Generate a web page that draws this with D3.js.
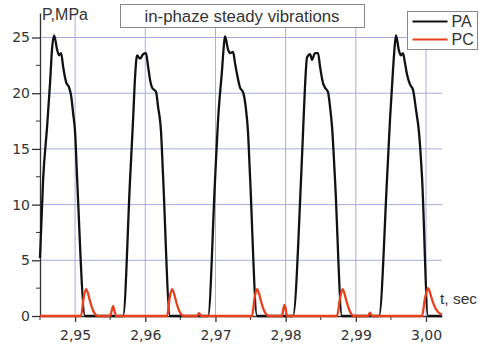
<!DOCTYPE html>
<html>
<head>
<meta charset="utf-8">
<script src="https://cdn.jsdelivr.net/npm/d3@7"></script>
<style>
  body { margin: 0; background: #fff; }
  svg { display: block; }
  text { font-family: "Liberation Sans", Arial, sans-serif; fill: #333; }
</style>
</head>
<body>
<div id="chart-container"></div>
<script>
// PA pressure trace: time (s) and pressure (MPa)
const paTime = [
  2.94500, 2.94544, 2.94601, 2.94644, 2.94672, 2.94701, 2.94744, 2.94772, 2.94801, 2.94829,
  2.94872, 2.94915, 2.94943, 2.94972, 2.95000, 2.95028, 2.95142,
  2.95684, 2.95783, 2.95826, 2.95855, 2.95883, 2.95926, 2.95969, 2.96011, 2.96040, 2.96068,
  2.96097, 2.96154, 2.96182, 2.96225, 2.96254, 2.96353,
  2.96895, 2.96994, 2.97037, 2.97094, 2.97123, 2.97137, 2.97180, 2.97208, 2.97251, 2.97279,
  2.97308, 2.97350, 2.97393, 2.97436, 2.97464, 2.97493, 2.97593,
  2.98105, 2.98219, 2.98248, 2.98276, 2.98305, 2.98348, 2.98376, 2.98419, 2.98462, 2.98490,
  2.98533, 2.98561, 2.98604, 2.98632, 2.98661, 2.98704, 2.98803,
  2.99331, 2.99444, 2.99487, 2.99530, 2.99558, 2.99573, 2.99615, 2.99644, 2.99672, 2.99701,
  2.99729, 2.99772, 2.99815, 2.99858, 2.99900, 2.99943, 3.00029, 3.00228
];
const paValue = [
  5.2, 12.2, 17.0, 21.0, 24.0, 25.2, 23.9, 23.4, 23.6, 22.4,
  21.0, 20.5, 19.8, 18.2, 16.5, 12.5, 0,
  0, 12.2, 17.6, 21.5, 23.4, 23.1, 23.5, 23.6, 22.4, 21.2,
  20.5, 20.1, 18.8, 16.5, 12.5, 0,
  0, 12.2, 17.6, 22.1, 24.5, 25.1, 23.9, 23.6, 23.7, 22.7,
  21.7, 20.5, 20.1, 18.5, 16.5, 12.5, 0,
  0, 12.2, 16.5, 20.6, 23.2, 23.5, 23.0, 23.6, 23.6, 22.4,
  20.9, 20.5, 20.1, 18.8, 17.0, 12.2, 0,
  0, 12.2, 17.6, 22.1, 24.5, 25.2, 23.8, 23.4, 23.6, 22.7,
  21.7, 20.8, 20.3, 18.5, 16.5, 12.5, 0, 0
];

// PC pressure trace
const pcTime = [
  2.94500,
  2.95085, 2.95121, 2.95157, 2.95185, 2.95214, 2.95256, 2.95328,
  2.95499, 2.95527, 2.95541, 2.95556, 2.95584,
  2.96311, 2.96346, 2.96382, 2.96410, 2.96439, 2.96481, 2.96553,
  2.96738, 2.96766, 2.96795,
  2.97521, 2.97557, 2.97593, 2.97621, 2.97650, 2.97692, 2.97764,
  2.97949, 2.97970, 2.97984, 2.97999, 2.98020,
  2.98732, 2.98775, 2.98811, 2.98839, 2.98868, 2.98910, 2.98974,
  2.99174, 2.99202, 2.99231,
  2.99943, 2.99986, 3.00029, 3.00057, 3.00085, 3.00142, 3.00228
];
const pcValue = [
  0,
  0, 1.6, 2.4, 2.0, 1.3, 0.5, 0,
  0, 0.6, 0.9, 0.6, 0,
  0, 1.6, 2.4, 2.0, 1.3, 0.5, 0,
  0, 0.25, 0,
  0, 1.6, 2.4, 2.0, 1.3, 0.5, 0,
  0, 0.7, 1.0, 0.7, 0,
  0, 1.6, 2.4, 2.0, 1.3, 0.5, 0,
  0, 0.3, 0,
  0, 1.6, 2.5, 2.1, 1.5, 0.6, 0.1
];

const xTicks = [2.95, 2.96, 2.97, 2.98, 2.99, 3.00];
const xMinorTicks = [2.945, 2.955, 2.965, 2.975, 2.985, 2.995];
const yTicks = [0, 5, 10, 15, 20, 25];
const yMinorTicks = [2.5, 7.5, 12.5, 17.5, 22.5];

const seriesNames = ["PA", "PC"];
const seriesColors = ["#111", "#e8401c"];

const W = 479, H = 345;
const margin = {top: 13, right: 37, bottom: 29, left: 40},
      width = W - margin.left - margin.right,
      height = H - margin.top - margin.bottom;

const svg = d3.select("#chart-container").append("svg")
    .attr("width", W)
    .attr("height", H);

const g = svg.append("g")
    .attr("transform", `translate(${margin.left}, ${margin.top})`);

const x = d3.scaleLinear()
    .domain([2.945, 3.00228])
    .range([0, width]);

const y = d3.scaleLinear()
    .domain([0, 27.2])
    .range([height, 0]);

// grid
const gridColor = "#a9acdc";
g.selectAll(".vgrid")
    .data(xTicks)
    .enter().append("line")
    .attr("x1", d => x(d)).attr("x2", d => x(d))
    .attr("y1", 0).attr("y2", height)
    .attr("stroke", gridColor).attr("stroke-width", 1);
g.selectAll(".hgrid")
    .data(yTicks.filter(d => d > 0))
    .enter().append("line")
    .attr("x1", 0).attr("x2", width)
    .attr("y1", d => y(d)).attr("y2", d => y(d))
    .attr("stroke", gridColor).attr("stroke-width", 1);

// x axis
const xAxis = g.append("g")
    .attr("transform", `translate(0, ${height})`)
    .call(d3.axisBottom(x).tickValues(xTicks).tickSize(6).tickSizeOuter(0)
        .tickFormat(d => d3.format(".2f")(d).replace(".", ",")));
xAxis.append("g").selectAll("line")
    .data(xMinorTicks)
    .enter().append("line")
    .attr("x1", d => x(d)).attr("x2", d => x(d))
    .attr("y1", 0).attr("y2", 4)
    .attr("stroke", "#333");

// y axis
const yAxis = g.append("g")
    .call(d3.axisLeft(y).tickValues(yTicks).tickSize(8).tickSizeOuter(0));
yAxis.append("g").selectAll("line")
    .data(yMinorTicks)
    .enter().append("line")
    .attr("x1", 0).attr("x2", -4)
    .attr("y1", d => y(d)).attr("y2", d => y(d))
    .attr("stroke", "#333");

[xAxis, yAxis].forEach(a => {
    a.select(".domain").attr("stroke", "#333").attr("stroke-width", 1.3);
    a.selectAll(".tick line").attr("stroke", "#333").attr("stroke-width", 1.3);
    a.selectAll(".tick text")
        .style("font-family", "'DejaVu Sans', sans-serif")
        .style("font-size", "14px")
        .attr("fill", "#333");
});
xAxis.selectAll(".tick text").attr("dy", "1.05em");
yAxis.selectAll(".tick text").attr("x", -10);

// lines
const line = d3.line()
    .x(d => x(d[0]))
    .y(d => y(d[1]))
    .curve(d3.curveMonotoneX);

const paData = paTime.map((t, i) => [t, paValue[i]]);
const pcData = pcTime.map((t, i) => [t, pcValue[i]]);

g.append("path")
    .datum(paData)
    .attr("fill", "none")
    .attr("stroke", seriesColors[0])
    .attr("stroke-width", 2.3)
    .attr("stroke-linejoin", "round")
    .attr("d", line);

g.append("path")
    .datum(pcData)
    .attr("fill", "none")
    .attr("stroke", seriesColors[1])
    .attr("stroke-width", 2.3)
    .attr("stroke-linejoin", "round")
    .attr("d", line);

// axis titles
svg.append("text")
    .attr("x", 42).attr("y", 20)
    .style("font-size", "16px")
    .text("P,MPa");

svg.append("text")
    .attr("x", 440).attr("y", 304)
    .style("font-size", "15.5px")
    .text("t, sec");

// title box
svg.append("rect")
    .attr("x", 120.5).attr("y", 4.5)
    .attr("width", 244).attr("height", 23)
    .attr("fill", "#fff").attr("stroke", "#888");
svg.append("text")
    .attr("x", 242).attr("y", 21.5)
    .attr("text-anchor", "middle")
    .style("font-size", "16.8px")
    .text("in-phaze steady vibrations");

// legend
const legend = svg.append("g").attr("transform", "translate(407.5, 11.5)");
legend.append("rect")
    .attr("width", 70).attr("height", 38)
    .attr("fill", "#fff").attr("stroke", "#888");
seriesNames.forEach((name, i) => {
    legend.append("line")
        .attr("x1", 5).attr("x2", 40)
        .attr("y1", 10 + i * 18).attr("y2", 10 + i * 18)
        .attr("stroke", seriesColors[i]).attr("stroke-width", 2.2);
    legend.append("text")
        .attr("x", 44).attr("y", 15.5 + i * 18)
        .style("font-size", "16px")
        .text(name);
});
</script>
</body>
</html>
